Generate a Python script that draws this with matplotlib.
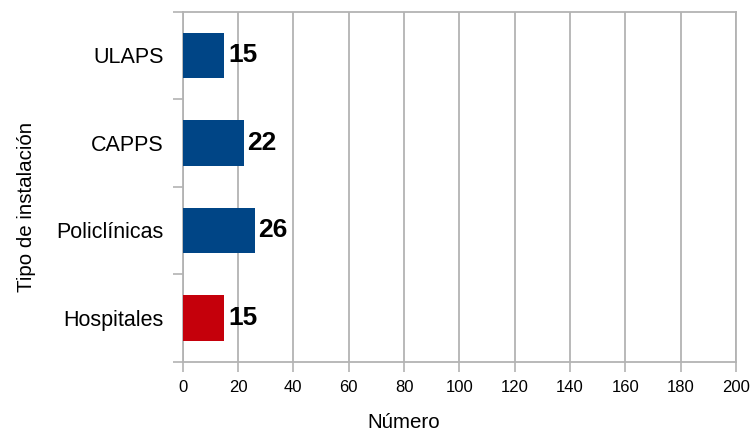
import matplotlib.pyplot as plt
import numpy as np

plt.rcParams['font.family'] = ['Liberation Sans', 'DejaVu Sans']

categories = ['ULAPS', 'CAPPS', 'Policlínicas', 'Hospitales']
values = [15, 22, 26, 15]
colors = ['#004586', '#004586', '#004586', '#c5000b']
x_ticks = list(range(0, 201, 20))

grid_color = '#b3b3b3'

fig = plt.figure(figsize=(7.52, 4.32), dpi=100)
ax = fig.add_axes([182.7 / 752, 1 - 361.7 / 432, (736 - 182.7) / 752, (361.7 - 11.7) / 432])

y_pos = np.arange(len(categories))
ax.barh(y_pos, values, height=0.52, color=colors, zorder=3)
for y, v in zip(y_pos, values):
	ax.text(v + 1.4, y, str(v), va='center', ha='left', fontsize=19, fontweight='bold', zorder=4)

ax.set_xlim(0, 200)
ax.set_ylim(len(categories) - 0.5, -0.5)
ax.set_xticks(x_ticks)
ax.tick_params(axis='x', labelsize=12, length=7.2, width=1.2, color=grid_color, pad=6)

# category labels centered, ticks on the category boundaries
ax.set_yticks(y_pos)
ax.set_yticklabels(categories, fontsize=15.5)
ax.tick_params(axis='y', which='major', length=0, pad=13.5)
ax.set_yticks(np.arange(-0.5, len(categories)), minor=True)
ax.tick_params(axis='y', which='minor', length=7.2, width=1.2, color=grid_color)

ax.grid(axis='x', color=grid_color, linewidth=1.3, zorder=0)
for s in ax.spines.values():
	s.set_color(grid_color)
	s.set_linewidth(1.3)

fig.text(404 / 752, 1 - 422 / 432, 'Número', ha='center', va='center', fontsize=14.8)
fig.text(27 / 752, 1 - 207 / 432, 'Tipo de instalación', ha='center', va='center', rotation=90, fontsize=14.8)

fig.savefig('out.png', dpi=100)
